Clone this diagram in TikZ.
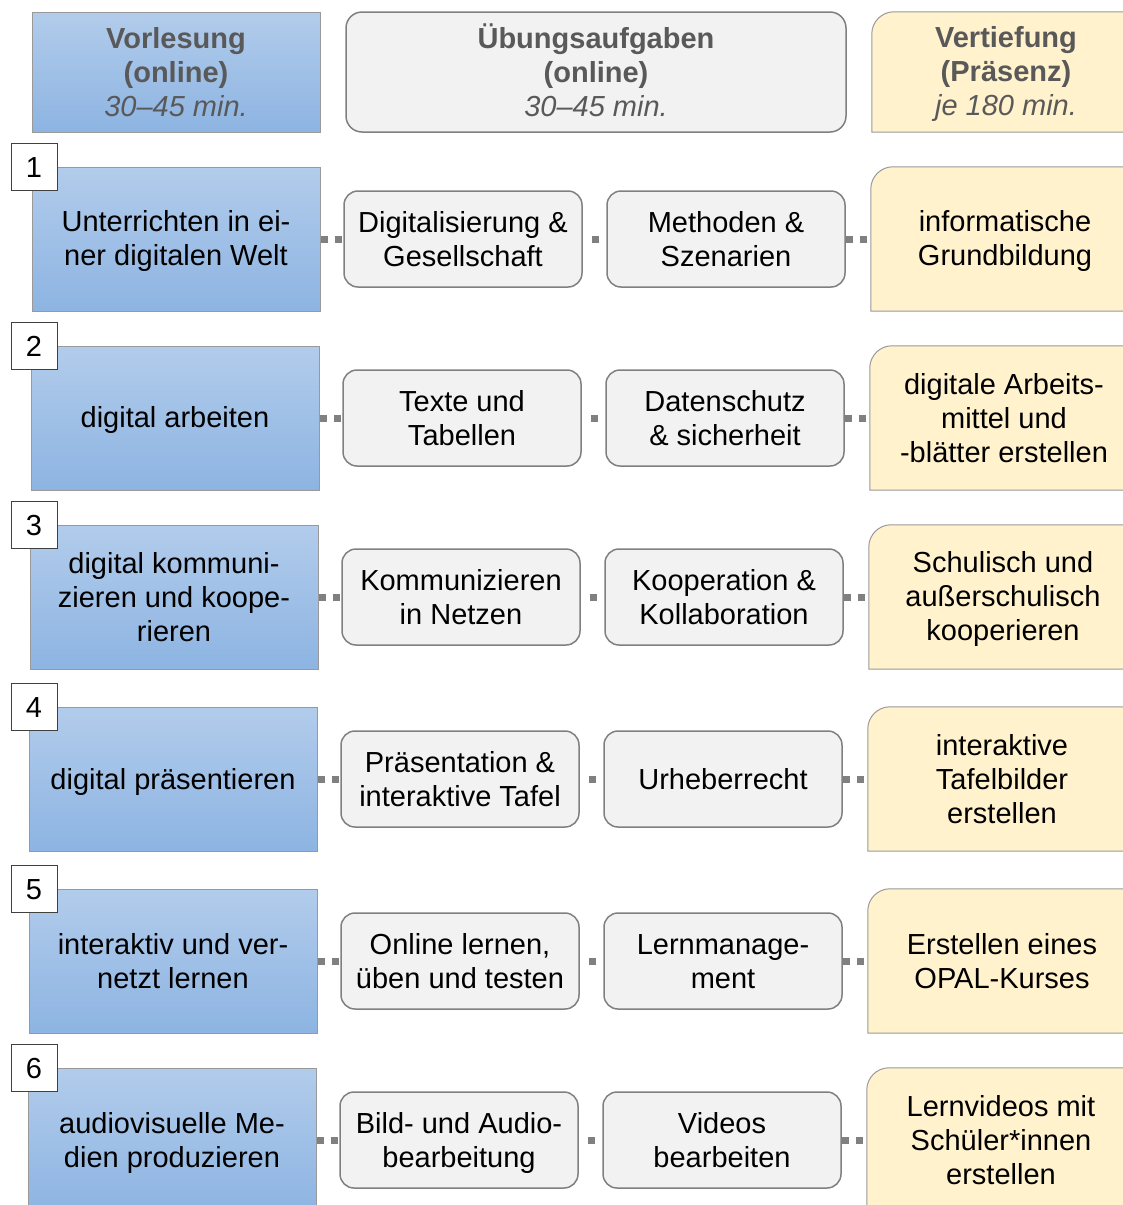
\documentclass[tikz,border=0pt]{standalone}
\usepackage{fontspec}
\setmainfont{Liberation Sans}
\usetikzlibrary{backgrounds}

\definecolor{blueTop}{RGB}{178,204,235}
\definecolor{blueBot}{RGB}{141,180,226}
\definecolor{boxGray}{RGB}{242,242,242}
\definecolor{lineGray}{RGB}{128,128,128}
\definecolor{headText}{RGB}{89,89,89}
\definecolor{paleYellow}{RGB}{255,242,204}

\newcommand{\topst}{\rule{0pt}{26pt}}
\tikzset{
  every node/.style={font=\fontsize{29}{34}\selectfont, align=center, inner sep=0pt,
    execute at end node={\rule[-6pt]{0pt}{6pt}}},
  vorl/.style={draw=lineGray!80, line width=1pt, top color=blueTop, bottom color=blueBot,
    minimum width=288pt, minimum height=144pt},
  uebg/.style={draw=lineGray, line width=1.5pt, fill=boxGray, rounded corners=14pt,
    minimum width=238pt, minimum height=96pt},
  vert/.style={minimum width=268pt, minimum height=144pt},
  nummer/.style={draw=black!75, line width=1pt, fill=white, minimum width=46pt, minimum height=47pt},
  link/.style={lineGray, line width=7pt, dash pattern=on 7pt off 7pt},
  midlink/.style={link, dash pattern=on 7pt off 18pt, dash phase=16pt},
  kopf/.style={text=headText}
}
% yellow box: only the upper left corner is rounded
\newcommand{\vertbg}[1]{%
  \begin{scope}[on background layer]
    \filldraw[fill=paleYellow, draw=lineGray!80, line width=1pt]
      (#1.south east) -- (#1.south west) -- ([yshift=-22pt]#1.north west)
      .. controls ([yshift=-10pt]#1.north west) and ([xshift=10pt]#1.north west) ..
      ([xshift=22pt]#1.north west) -- (#1.north east) -- cycle;
  \end{scope}}

\begin{document}
\begin{tikzpicture}[x=1pt,y=-1pt]
  \useasboundingbox (0,0) rectangle (1122,1205);
  \clip (0,0) rectangle (1122,1205);

  % column heads
  \node[vorl, minimum height=120pt, kopf] (hv) at (176,72)
    {\topst\textbf{Vorlesung}\\\textbf{(online)}\\\textit{30--45 min.}};
  \node[uebg, minimum width=500pt, minimum height=120pt, rounded corners=16pt, kopf] (hu) at (596,72)
    {\topst\textbf{Übungsaufgaben}\\\textbf{(online)}\\\textit{30--45 min.}};
  \node[vert, minimum height=120pt, kopf] (ht) at (1006,72)
    {\topst\textbf{Vertiefung}\\\textbf{(Präsenz)}\\\textit{je 180 min.}};
  \vertbg{ht}

  % the six units
  \foreach \i/\top/\dx/\vtext/\atext/\btext/\ttext in {
    1/167/0/{Unterrichten in ei-\\ner digitalen Welt}/{Digitalisierung \&\\Gesellschaft}/{Methoden \&\\Szenarien}/{informatische\\Grundbildung},
    2/346/-1/{digital arbeiten}/{Texte und\\Tabellen}/{Datenschutz\\\& sicherheit}/{digitale Arbeits-\\mittel und\\-blätter erstellen},
    3/525/-2/{digital kommuni-\\zieren und koope-\\rieren}/{Kommunizieren\\in Netzen}/{Kooperation \&\\Kollaboration}/{Schulisch und\\außerschulisch\\kooperieren},
    4/707/-3/{digital präsentieren}/{Präsentation \&\\interaktive Tafel}/{Urheberrecht}/{interaktive\\Tafelbilder\\erstellen},
    5/889/-3/{interaktiv und ver-\\netzt lernen}/{Online lernen,\\üben und testen}/{Lernmanage-\\ment}/{Erstellen eines\\OPAL-Kurses},
    6/1068/-4/{audiovisuelle Me-\\dien produzieren}/{Bild- und Audio-\\bearbeitung}/{Videos\\bearbeiten}/{Lernvideos mit\\Schüler*innen\\erstellen}}
  {
    \begin{scope}[xshift=\dx pt]
      \node[vorl] (v\i) at (176,\top+72) {\topst\vtext};
      \node[uebg] (a\i) at (463,\top+72) {\topst\atext};
      \node[uebg] (b\i) at (726,\top+72) {\topst\btext};
      \node[vert] (t\i) at (1005,\top+72) {\topst\ttext};
    \end{scope}
    \vertbg{t\i}
    \draw[link] (v\i) -- (a\i);
    \draw[midlink] (a\i) -- (b\i);
    \draw[link] (b\i) -- (t\i);
    \node[nummer] (n\i) at (34,\top) {\topst\i};
  }
\end{tikzpicture}
\end{document}
